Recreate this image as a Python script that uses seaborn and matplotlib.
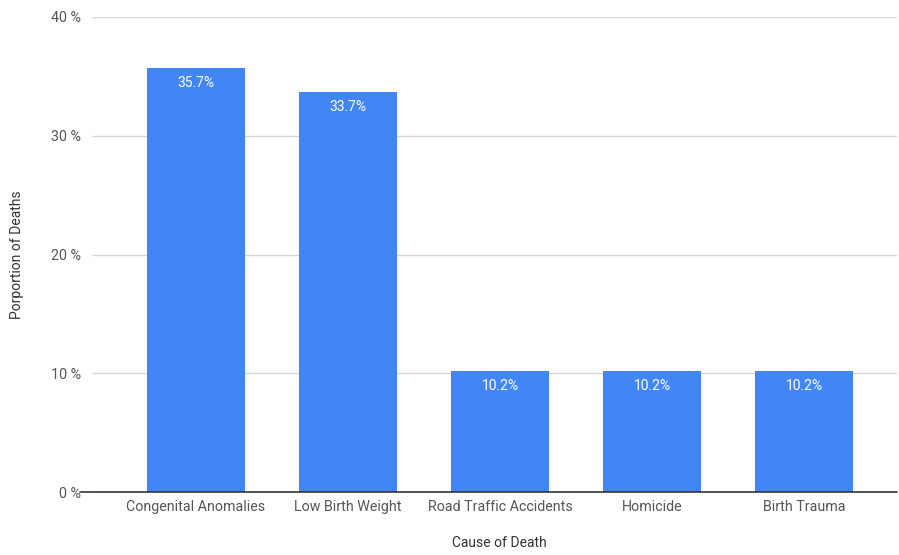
import matplotlib
matplotlib.use("Agg")
import matplotlib.pyplot as plt
import seaborn as sns
import pandas as pd

categories = ["Congenital Anomalies", "Low Birth Weight", "Road Traffic Accidents", "Homicide", "Birth Trauma"]
values = [35.7, 33.7, 10.2, 10.2, 10.2]
yticks = [0, 10, 20, 30, 40]
ytick_labels = ["0 %", "10 %", "20 %", "30 %", "40 %"]

sns.set_theme(style="white")
plt.rcParams['font.family'] = ['Roboto', 'DejaVu Sans']

df = pd.DataFrame({"cause": categories, "value": values})

fig = plt.figure(figsize=(8.99, 5.55), dpi=100)
W, H = 899, 555
ax = fig.add_axes([92 / W, 1 - 492 / H, (897 - 92) / W, (492 - 17) / H])

sns.barplot(data=df, x="cause", y="value", color="#4285F4", saturation=1,
            width=0.645, ax=ax, zorder=3, linewidth=0)

ax.set_xlim(-0.684, 4.612)
ax.set_ylim(0, 40)
ax.set_yticks(yticks)
ax.set_yticklabels(ytick_labels)
ax.yaxis.grid(True, color="#d9d9d9", linewidth=1, zorder=0)
for s in ax.spines.values():
    s.set_visible(False)
ax.axhline(0, xmin=-0.015, xmax=1, color="#333333", linewidth=1.2, zorder=4, clip_on=False)

ax.tick_params(axis="both", length=0, colors="#555555", labelsize=10.3)
ax.tick_params(axis="y", pad=8)
ax.tick_params(axis="x", pad=6)

for i, v in enumerate(values):
    ax.annotate(f"{v:.1f}%", xy=(i, v), xytext=(0, -6), textcoords="offset points",
                ha="center", va="top", color="white", fontsize=10, zorder=5)

ax.set_xlabel("")
ax.set_ylabel("")
fig.text(499 / W, 1 - 543 / H, "Cause of Death", color="#333333", fontsize=10,
         ha="center", va="center")
fig.text(17 / W, 1 - 255 / H, "Porportion of Deaths", color="#333333", fontsize=10,
         ha="center", va="center", rotation=90)

fig.savefig("out.png", dpi=100, facecolor="white")
